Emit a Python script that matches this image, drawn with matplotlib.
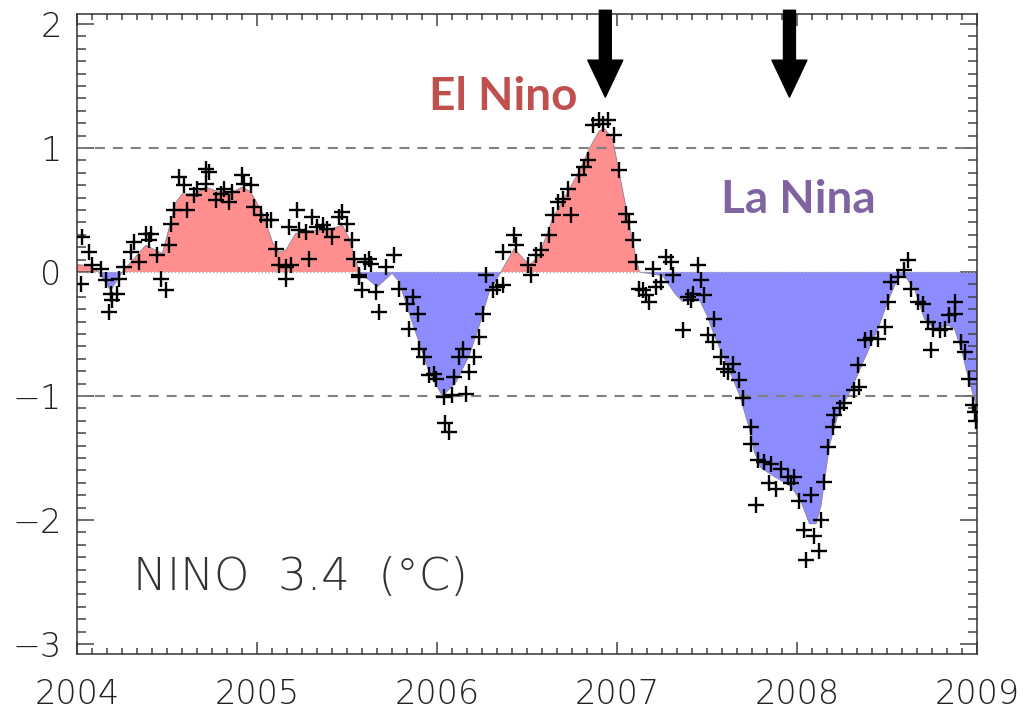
import numpy as np
import matplotlib.pyplot as plt
from matplotlib.ticker import MultipleLocator

# smoothed nino 3.4 index (shaded area)
smooth_time = [2004.000, 2004.070, 2004.122, 2004.187, 2004.252, 2004.382, 2004.474, 2004.549, 2004.585, 2004.660,
               2004.715, 2004.790, 2004.863, 2004.919, 2004.965, 2005.030, 2005.086, 2005.123, 2005.160, 2005.215,
               2005.290, 2005.382, 2005.475, 2005.512, 2005.567, 2005.668, 2005.751, 2005.790, 2005.846, 2005.900,
               2005.957, 2006.030, 2006.105, 2006.180, 2006.235, 2006.290, 2006.355, 2006.429, 2006.513, 2006.568,
               2006.642, 2006.716, 2006.790, 2006.846, 2006.902, 2006.930, 2006.975, 2007.030, 2007.087, 2007.124,
               2007.254, 2007.320, 2007.365, 2007.420, 2007.460, 2007.500, 2007.540, 2007.606, 2007.680, 2007.735,
               2007.763, 2007.800, 2007.874, 2007.967, 2008.022, 2008.069, 2008.106, 2008.134, 2008.180, 2008.227,
               2008.300, 2008.375, 2008.449, 2008.504, 2008.560, 2008.597, 2008.652, 2008.708, 2008.764, 2008.838,
               2008.875, 2008.912, 2008.949, 2009.000]
smooth_anom = [0.06, 0.05, 0.0, -0.15, 0.0, 0.215, 0.148, 0.56, 0.63, 0.63,
               0.685, 0.645, 0.645, 0.685, 0.645, 0.48, 0.24, 0.16, 0.175, 0.31,
               0.336, 0.336, 0.376, 0.27, 0.0, -0.12, -0.01, -0.08, -0.336, -0.565,
               -0.81, -1.0, -0.89, -0.67, -0.43, -0.16, 0.0, 0.188, 0.054, 0.134,
               0.43, 0.62, 0.81, 0.995, 1.14, 1.156, 1.075, 0.67, 0.24, 0.0,
               -0.03, -0.17, -0.24, -0.20, -0.23, -0.35, -0.51, -0.73, -0.99, -1.26,
               -1.45, -1.58, -1.65, -1.73, -1.85, -2.03, -2.03, -1.88, -1.40, -1.15,
               -0.95, -0.70, -0.46, -0.24, -0.05, -0.03, -0.135, -0.38, -0.46, -0.43,
               -0.46, -0.62, -0.84, -1.10]

# weekly values (crosses)
week_time = [2004.030, 2004.020, 2004.067, 2004.085, 2004.132, 2004.159, 2004.187, 2004.178, 2004.224, 2004.196,
             2004.233, 2004.261, 2004.298, 2004.317, 2004.345, 2004.382, 2004.410, 2004.400, 2004.446, 2004.465,
             2004.493, 2004.511, 2004.521, 2004.539, 2004.567, 2004.595, 2004.613, 2004.650, 2004.669, 2004.715,
             2004.734, 2004.715, 2004.771, 2004.799, 2004.817, 2004.845, 2004.863, 2004.919, 2004.928, 2004.965,
             2004.984, 2005.021, 2005.058, 2005.077, 2005.104, 2005.123, 2005.160, 2005.160, 2005.188, 2005.178,
             2005.225, 2005.234, 2005.271, 2005.290, 2005.308, 2005.336, 2005.364, 2005.391, 2005.419, 2005.456,
             2005.475, 2005.502, 2005.530, 2005.540, 2005.568, 2005.586, 2005.600, 2005.623, 2005.632, 2005.716,
             2005.762, 2005.568, 2005.660, 2005.679, 2005.790, 2005.836, 2005.864, 2005.892, 2005.845, 2005.901,
             2005.929, 2005.957, 2005.984, 2005.994, 2006.040, 2006.047, 2006.067, 2006.086, 2006.096, 2006.123,
             2006.142, 2006.160, 2006.179, 2006.207, 2006.235, 2006.253, 2006.272, 2006.309, 2006.336, 2006.364,
             2006.364, 2006.429, 2006.438, 2006.503, 2006.522, 2006.550, 2006.577, 2006.624, 2006.642, 2006.670,
             2006.698, 2006.725, 2006.744, 2006.790, 2006.818, 2006.837, 2006.864, 2006.902, 2006.920, 2006.948,
             2006.985, 2007.013, 2007.050, 2007.068, 2007.087, 2007.106, 2007.124, 2007.161, 2007.198, 2007.272,
             2007.300, 2007.309, 2007.365, 2007.448, 2007.467, 2007.411, 2007.142, 2007.180, 2007.217, 2007.245,
             2007.393, 2007.420, 2007.485, 2007.541, 2007.504, 2007.531, 2007.578, 2007.597, 2007.615, 2007.643,
             2007.680, 2007.698, 2007.745, 2007.745, 2007.782, 2007.819, 2007.856, 2007.846, 2007.884, 2007.911,
             2007.949, 2007.967, 2007.986, 2007.773, 2008.013, 2008.078, 2008.041, 2008.050, 2008.096, 2008.124,
             2008.134, 2008.152, 2008.171, 2008.198, 2008.208, 2008.236, 2008.263, 2008.319, 2008.347, 2008.337,
             2008.375, 2008.412, 2008.449, 2008.486, 2008.504, 2008.523, 2008.560, 2008.597, 2008.615, 2008.634,
             2008.671, 2008.699, 2008.727, 2008.754, 2008.792, 2008.745, 2008.820, 2008.847, 2008.875, 2008.875,
             2008.912, 2008.931, 2008.958, 2008.977, 2008.986, 2008.997]
week_anom = [0.282, -0.094, 0.161, 0.054, 0.027, -0.067, -0.175, -0.323, -0.175, -0.228,
             -0.054, 0.040, 0.161, 0.242, 0.081, 0.309, 0.309, 0.255, 0.134, -0.054,
             -0.148, 0.215, 0.390, 0.497, 0.766, 0.699, 0.497, 0.618, 0.672, 0.833,
             0.806, 0.712, 0.578, 0.631, 0.672, 0.565, 0.645, 0.780, 0.712, 0.699,
             0.524, 0.457, 0.417, 0.417, 0.188, 0.054, 0.040, -0.054, 0.054, 0.363,
             0.497, 0.336, 0.323, 0.108, 0.444, 0.363, 0.376, 0.349, 0.282, 0.444,
             0.484, 0.390, 0.255, 0.108, -0.027, -0.148, 0.081, 0.108, 0.067, 0.040,
             0.134, -0.040, -0.161, -0.323, -0.134, -0.255, -0.200, -0.336, -0.457, -0.618,
             -0.685, -0.833, -0.820, -0.860, -1.008, -1.220, -1.290, -0.995, -0.847, -0.685,
             -0.618, -0.980, -0.806, -0.685, -0.524, -0.336, -0.027, -0.148, -0.120, -0.108,
             0.161, 0.296, 0.215, 0.054, -0.027, 0.134, 0.175, 0.296, 0.457, 0.565,
             0.591, 0.672, 0.457, 0.780, 0.847, 0.900, 1.183, 1.223, 1.196, 1.223,
             1.102, 0.820, 0.470, 0.403, 0.255, 0.081, -0.134, -0.188, 0.027, 0.121,
             0.081, -0.027, -0.470, 0.054, -0.067, -0.228, -0.148, -0.242, -0.121, -0.081,
             -0.200, -0.175, -0.188, -0.376, -0.510, -0.565, -0.685, -0.780, -0.806, -0.740,
             -0.874, -1.020, -1.250, -1.390, -1.515, -1.530, -1.550, -1.700, -1.750, -1.590,
             -1.650, -1.700, -1.650, -1.880, -1.850, -1.800, -2.080, -2.320, -2.130, -2.250,
             -2.000, -1.690, -1.410, -1.250, -1.150, -1.100, -1.060, -0.954, -0.930, -0.750,
             -0.550, -0.530, -0.540, -0.444, -0.242, -0.081, -0.040, 0.013, 0.094, -0.134,
             -0.242, -0.255, -0.403, -0.457, -0.470, -0.630, -0.457, -0.350, -0.242, -0.336,
             -0.565, -0.645, -0.860, -1.075, -1.130, -1.200]

year_ticks = [2004, 2005, 2006, 2007, 2008, 2009]
anom_ticks = [-3, -2, -1, 0, 1, 2]
event_levels = [1, -1]
arrow_times = [2006.935, 2007.958]

plt.rcParams['font.family'] = ['DejaVu Sans']

fig = plt.figure(figsize=(10.25, 7.11), dpi=100)
ax = fig.add_axes([0.0751, 0.0802, 0.8781, 0.9001])

t = np.array(smooth_time)
v = np.array(smooth_anom)

# warm / cold shading about zero
ax.fill_between(t, v, 0, where=v >= 0, interpolate=True, color='#ff8f8f', lw=0, zorder=1)
ax.fill_between(t, v, 0, where=v <= 0, interpolate=True, color='#8c8cff', lw=0, zorder=1)
ax.plot(t, v, color='#8a7f95', lw=0.6, zorder=2)

ax.axhline(0, color='#b0b0b0', lw=1.0, ls=(0, (1, 1.5)), zorder=2)
for lev in event_levels:
    ax.axhline(lev, color='#808080', lw=1.5, dashes=(4.8, 3.8), zorder=2)

ax.plot(week_time, week_anom, '+', color='black', ms=11, mew=1.7, zorder=3)

ax.set_xlim(year_ticks[0], year_ticks[-1])
ax.set_ylim(-3.08, 2.08)
ax.set_xticks(year_ticks)
ax.set_yticks(anom_ticks)
ax.xaxis.set_minor_locator(MultipleLocator(1 / 12))
ax.yaxis.set_minor_locator(MultipleLocator(0.1))

ax.tick_params(axis='both', which='both', direction='in', top=True, right=True,
               color='#444444', width=1.1, labelcolor='#222222', labelsize=24)
ax.tick_params(axis='x', which='major', length=8.6, pad=17)
ax.tick_params(axis='x', which='minor', length=4)
ax.tick_params(axis='y', which='major', length=12, pad=11)
ax.tick_params(axis='y', which='minor', length=6.5)
for lab in ax.get_xticklabels() + ax.get_yticklabels():
    lab.set_fontweight('light')
for sp in ax.spines.values():
    sp.set_color('#333333')
    sp.set_linewidth(1.1)

ax.text(2004.31, -2.565, 'NINO  3.4  (°C)', fontsize=32.5, color='#333333',
        fontweight='light', ha='left', va='baseline')

# event labels and markers
ax.text(2006.369, 1.306, 'El Nino', fontsize=33, fontweight='bold', color='#c0504d',
        family=['Lato', 'DejaVu Sans'], ha='center', va='baseline')
ax.text(2008.006, 0.476, 'La Nina', fontsize=33, fontweight='bold', color='#8064a2',
        family=['Lato', 'DejaVu Sans'], ha='center', va='baseline')

for at in arrow_times:
    ax.annotate('', xy=(at, 1.41), xytext=(at, 2.11), xycoords='data',
                arrowprops=dict(arrowstyle='simple,head_length=26.6,head_width=25.2,tail_width=8.6',
                                mutation_scale=1, color='black', shrinkA=0, shrinkB=0),
                annotation_clip=False, zorder=5)

plt.savefig('out.png', dpi=100)
